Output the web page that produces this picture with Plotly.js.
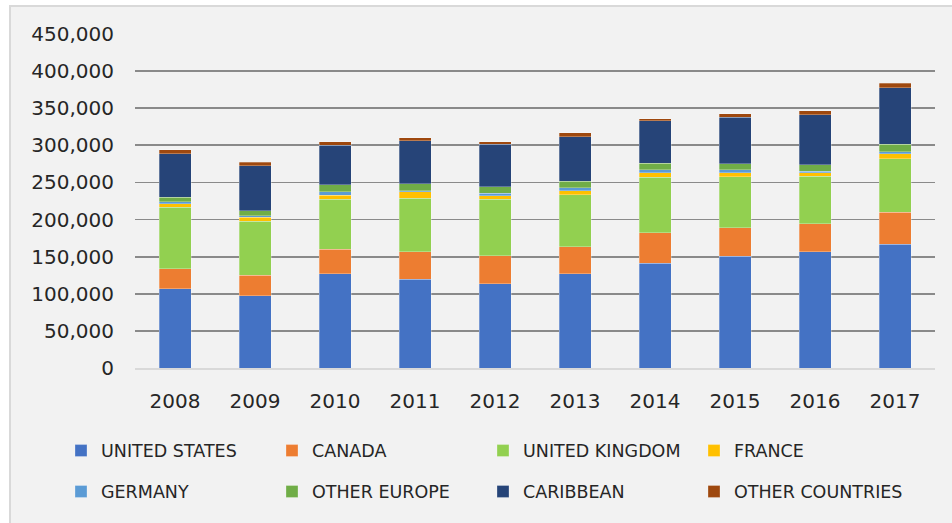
<!DOCTYPE html>
<html>
<head>
<meta charset="utf-8">
<script src="https://cdn.plot.ly/plotly-3.0.1.min.js"></script>
<style>
  html, body { margin: 0; padding: 0; background: #ffffff; width: 952px; height: 523px; overflow: hidden; }
  #frame { position: absolute; left: 9px; top: 5px; width: 943px; height: 518px; border-left: 2px solid #d9d9d9; border-top: 2px solid #d9d9d9; background: #f2f2f2; }
  #chart { width: 941px; height: 516px; }
</style>
</head>
<body>
<div id="frame"><div id="chart"></div></div>
<script>
var years = ['2008','2009','2010','2011','2012','2013','2014','2015','2016','2017'];

var unitedStates   = [106500, 97400, 127100, 119900, 113200, 127100, 141000, 150900, 156300, 166600];
var canada         = [27300, 27900, 32700, 36400, 38100, 36400, 41300, 38200, 38200, 43100];
var unitedKingdom  = [83000, 72300, 67400, 72300, 75900, 70100, 74600, 68700, 63700, 72400];
var france         = [4800, 5400, 5400, 9000, 5000, 5400, 6300, 5400, 5000, 6700];
var germany        = [2200, 1900, 5000, 1400, 3100, 4000, 4100, 3600, 1800, 2700];
var otherEurope    = [6400, 6700, 9000, 9000, 8600, 8500, 8400, 8500, 8600, 9800];
var caribbean      = [58800, 60600, 53400, 58300, 57500, 60200, 57200, 62400, 67800, 76500];
var otherCountries = [5000, 4900, 4600, 3700, 3200, 5000, 2700, 5000, 5000, 5800];

var seriesNames = ['UNITED STATES','CANADA','UNITED KINGDOM','FRANCE','GERMANY','OTHER EUROPE','CARIBBEAN','OTHER COUNTRIES'];
var seriesValues = [unitedStates, canada, unitedKingdom, france, germany, otherEurope, caribbean, otherCountries];
var seriesColors = ['#4472C4','#ED7D31','#92D050','#FFC000','#5B9BD5','#70AD47','#264478','#9E480E'];

var traces = seriesNames.map(function(name, i) {
  return {
    type: 'bar',
    name: name,
    x: years,
    y: seriesValues[i],
    marker: { color: seriesColors[i], line: { color: 'rgba(255,255,255,0.35)', width: 0.8 } },
    legend: i < 4 ? 'legend' : 'legend2',
    hoverinfo: 'x+y+name'
  };
});

var legendFont = { family: 'DejaVu Sans', size: 17.5, color: '#262626' };

var layout = {
  width: 941,
  height: 516,
  margin: { l: 124, r: 17, t: 27, b: 155 },
  paper_bgcolor: '#f2f2f2',
  plot_bgcolor: '#f2f2f2',
  barmode: 'stack',
  bargap: 0.6,
  font: { family: 'DejaVu Sans', size: 20, color: '#262626' },
  xaxis: {
    type: 'category',
    showgrid: false,
    showline: true,
    linecolor: '#d9d9d9',
    linewidth: 2,
    ticks: '',
    ticklabelstandoff: 14,
    tickfont: { family: 'DejaVu Sans', size: 20, color: '#262626' },
    zeroline: false
  },
  yaxis: {
    range: [0, 450000],
    dtick: 50000,
    tickformat: ',d',
    showgrid: true,
    gridcolor: '#8a8a8a',
    gridwidth: 1.7,
    zeroline: false,
    ticks: '',
    ticklabelstandoff: 20,
    tickfont: { family: 'DejaVu Sans', size: 20, color: '#262626' }
  },
  showlegend: true,
  legend: {
    orientation: 'h',
    traceorder: 'normal',
    x: -0.0925, xanchor: 'left',
    y: -0.2476, yanchor: 'middle',
    entrywidth: 166, entrywidthmode: 'pixels',
    font: legendFont,
    bgcolor: 'rgba(0,0,0,0)'
  },
  legend2: {
    orientation: 'h',
    traceorder: 'normal',
    x: -0.0925, xanchor: 'left',
    y: -0.370, yanchor: 'middle',
    entrywidth: 166, entrywidthmode: 'pixels',
    font: legendFont,
    bgcolor: 'rgba(0,0,0,0)'
  }
};

Plotly.newPlot('chart', traces, layout, { displayModeBar: false, staticPlot: true });
</script>
</body>
</html>
